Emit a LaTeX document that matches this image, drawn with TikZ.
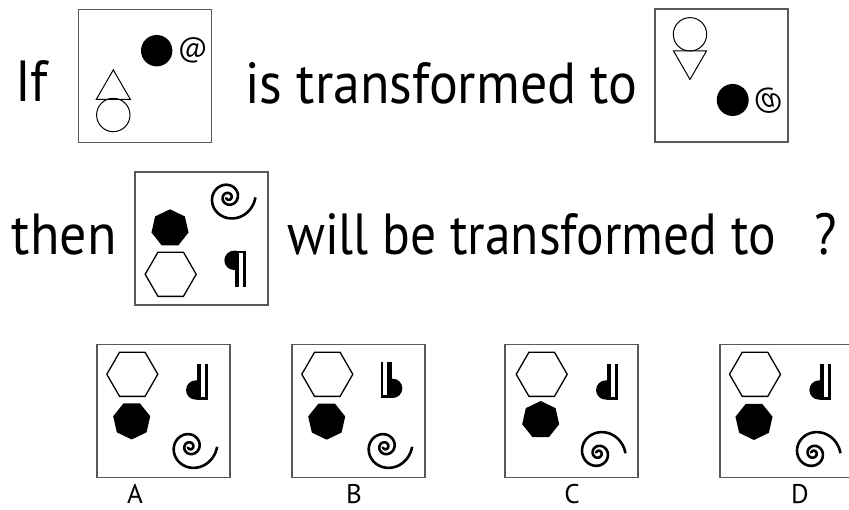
\documentclass[tikz,border=0pt]{standalone}
\usepackage{fontspec}
\setmainfont{PT Sans}
\usetikzlibrary{shapes.geometric}
\tikzset{
	frame/.style={draw=black!65, line width=1.2pt, minimum width=133pt, minimum height=133pt, inner sep=0pt},
	words/.style={anchor=base west, inner sep=0pt, xscale=0.93, font=\fontsize{58}{60}\selectfont},
	letter/.style={anchor=base, inner sep=0pt, font=\fontsize{27}{28}\selectfont},
	ring/.style={draw, circle, line width=1pt, inner sep=0pt},
	dot/.style={fill, circle, inner sep=0pt},
	tri/.style={draw, regular polygon, regular polygon sides=3, line width=1pt, inner sep=0pt},
	hexa/.style={draw, regular polygon, regular polygon sides=6, line width=1.3pt, inner sep=0pt, minimum size=51pt},
	hepta/.style={fill, regular polygon, regular polygon sides=7, inner sep=0pt, minimum size=38pt},
	at sign/.style={inner sep=0pt, font=\fontsize{28}{28}\selectfont},
	spiral/.pic={
		\draw[line width=2.6pt] plot[domain=-9.4:6.283, samples=200, smooth] ({9.5*exp(0.167*\x)*cos(\x r)}, {9.5*exp(0.167*\x)*sin(\x r)});
	},
	pilcrow/.pic={
		\fill (1.7,18) -- (-1,18) arc[start angle=90, end angle=270, radius=9.65] -- (1.7,-1.3) -- cycle;
		\fill (0,18) rectangle (4.3,-18);
		\fill (8.3,18) rectangle (11,-18);
		\fill (0,18) rectangle (11,15.5);
	}
}
\begin{document}
\begin{tikzpicture}[x=1pt, y=1pt]
	\useasboundingbox (0,0) rectangle (849,510);
	\clip (0,0) rectangle (849,510);
	\node[words] (If) at (15, 408) {If};
	\node[frame] (F1) at (144.7, 434.2) {};
	\node[words] (T1) at (245, 406) {is transformed to};
	\node[frame] (F2) at (721.5, 434.5) {};
	\node[words] (Then) at (11.7, 255) {then};
	\node[frame] (F3) at (201.5, 271.5) {};
	\node[words, xscale=0.955] (T2) at (287, 255) {will be transformed to\hspace{44pt}?};
	\node[frame] (FA) at (163.5, 99) {};
	\node[frame] (FB) at (358.5, 99) {};
	\node[frame] (FC) at (571.5, 99) {};
	\node[frame] (FD) at (786.5, 99) {};
	\node[letter] (LA) at (135, 6) {A};
	\node[letter] (LB) at (354, 6) {B};
	\node[letter] (LC) at (572, 6) {C};
	\node[letter] (LD) at (800, 6) {D};
	\node[dot, minimum size=31.4pt] (D1) at (156.7, 459.3) {};
	\node[at sign] (At1) at (192.7, 460) {@};
	\node[tri, minimum size=39.2pt] (Tr1) at (113.3, 420.5) {};
	\node[ring, minimum size=33.4pt] (R1) at (113.3, 395) {};
	\node[ring, minimum size=33.4pt] (R2) at (690, 475.7) {};
	\node[tri, minimum size=38pt, shape border rotate=180] (Tr2) at (690, 449.5) {};
	\node[dot, minimum size=32pt] (D2) at (732.7, 410) {};
	\node[at sign, yscale=-1] (At2) at (768.3, 409) {@};
	\pic at (228.3, 312.7) {spiral};
	\node[hepta] (H3) at (170, 281.7) {};
	\node[hexa] (X3) at (170.7, 235.7) {};
	\pic at (235, 241.3) {pilcrow};
	\node[hexa] (XA) at (132.3, 135.7) {};
	\node[hepta, shape border rotate=180] (HA) at (131.7, 89.5) {};
	\pic[yscale=-1] at (196.7, 128.3) {pilcrow};
	\pic at (190, 63.3) {spiral};
	\node[hexa] (XB) at (327.3, 135.7) {};
	\node[hepta, shape border rotate=180] (HB) at (326.7, 89.3) {};
	\pic[rotate=180] at (391.7, 130) {pilcrow};
	\pic at (385, 63.3) {spiral};
	\node[hexa] (XC) at (541.7, 135.7) {};
	\node[hepta] (HC) at (540.7, 90) {};
	\pic[yscale=-1] at (606.7, 128.3) {pilcrow};
	\pic[yscale=-1] at (598.3, 56.7) {spiral};
	\node[hexa] (XD) at (755, 135.7) {};
	\node[hepta, shape border rotate=180] (HD) at (754, 89) {};
	\pic[yscale=-1] at (820, 128.3) {pilcrow};
	\pic[yscale=-1] at (813.3, 56.7) {spiral};
\end{tikzpicture}
\end{document}
